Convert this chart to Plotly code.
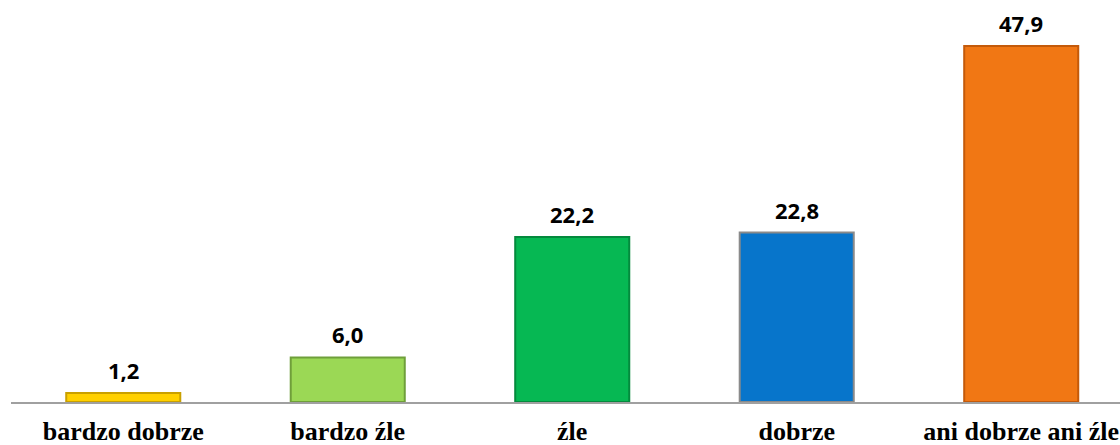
import plotly.graph_objects as go

categories = ["bardzo dobrze", "bardzo źle", "źle", "dobrze", "ani dobrze ani źle"]
values = [1.2, 6.0, 22.2, 22.8, 47.9]
labels = ["1,2", "6,0", "22,2", "22,8", "47,9"]
colors = ["#FFD000", "#9BD855", "#06B853", "#0775CB", "#F17714"]
edges = ["#C9A000", "#6F9F3A", "#048A3D", "#8A8A8A", "#C45A0A"]

fig = go.Figure()
fig.add_trace(go.Bar(
    x=categories,
    y=values,
    width=0.508,
    marker=dict(color=colors, line=dict(color=edges, width=2)),
    hoverinfo="skip",
))

# value labels above the bars
for c, v, t in zip(categories, values, labels):
    fig.add_annotation(
        x=c, y=v, text="<b>" + t + "</b>", showarrow=False,
        yanchor="bottom", yshift=6,
        font=dict(family="Open Sans", size=22, color="#000000"),
    )

fig.update_layout(
    width=1120, height=445,
    margin=dict(l=11, r=0, t=0, b=43),
    plot_bgcolor="white", paper_bgcolor="white",
    showlegend=False,
)
fig.update_xaxes(
    range=[-0.5, 4.44],
    showline=True, linecolor="#A0A0A0", linewidth=1.5,
    ticks="", showgrid=False,
    tickvals=categories,
    ticktext=["<b>" + c + "</b>" for c in categories],
    ticklabelstandoff=5,
    tickfont=dict(family="Liberation Serif", size=26, color="#000000"),
)
fig.update_yaxes(range=[0, 54.1], visible=False, showgrid=False)

fig.write_html("out.html", config={"displayModeBar": False},
               post_script="document.body.style.margin='0';")
